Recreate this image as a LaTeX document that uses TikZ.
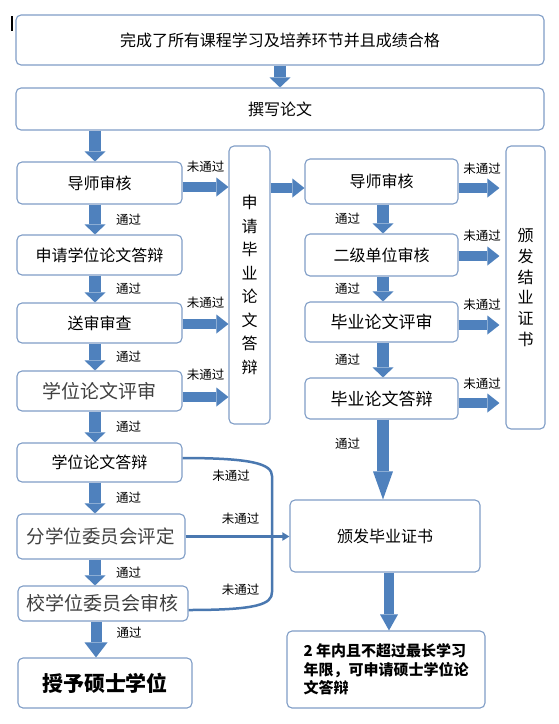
\documentclass[tikz,border=0pt]{standalone}
\usepackage{fontspec}
\setmainfont{Noto Sans CJK SC}
\usepackage{tikz}
\usetikzlibrary{arrows.meta,calc,positioning}
\definecolor{flowblue}{HTML}{4F81BD}
\definecolor{boxline}{HTML}{7F9DC6}
\definecolor{railblue}{HTML}{4A78B0}
\newcommand{\fs}[1]{\fontsize{#1}{#1}\selectfont}

\begin{document}
\begin{tikzpicture}[>={Triangle[width=21pt,length=10pt,line width=0pt]}, node distance=2cm, on grid]

	\tikzset{
		box/.style = {rectangle, draw=boxline, line width=1.1pt, rounded corners=5pt,
			inner sep=0pt, font=\fs{16}},
		flow/.style = {->, color=flowblue, line width=12pt},
		side/.style = {color=flowblue, line width=10pt, -{Triangle[width=19pt,length=12pt,line width=0pt]}},
		lab/.style = {inner sep=1pt, text=black, font=\fs{12.5}},
		rail/.style = {draw=railblue, line width=2.5pt}
	}

	\useasboundingbox (0,0) rectangle (559pt,-724pt);
	\fill (11pt,-16pt) rectangle (13pt,-31pt);

	\node[box, minimum width=528pt, minimum height=50pt] (top) at (280pt,-40pt) {完成了所有课程学习及培养环节并且成绩合格};
	\node[box, minimum width=528pt, minimum height=42pt] (write) [below = 69pt of top] {撰写论文};

	% left column
	\node[box, minimum width=165pt, minimum height=42pt] (L1) [below = 74pt of write, xshift = -180.5pt] {导师审核};
	\node[box, minimum width=165pt, minimum height=40pt] (L2) [below = 72pt of L1] {申请学位论文答辩};
	\node[box, minimum width=165pt, minimum height=40pt] (L3) [below = 68pt of L2] {送审审查};
	\node[box, minimum width=165pt, minimum height=40pt, font=\fs{19}, text=black!75] (L4) [below = 68pt of L3] {学位论文评审};
	\node[box, minimum width=165pt, minimum height=39pt] (L5) [below = 71.5pt of L4] {学位论文答辩};
	\node[box, minimum width=168pt, minimum height=45pt, font=\fs{18.5}, text=black!75] (L6) [below = 74pt of L5, xshift = 1.5pt] {分学位委员会评定};
	\node[box, minimum width=170pt, minimum height=35pt, font=\fs{19}, text=black!75] (L7) [below = 67pt of L6, xshift = 2pt] {校学位委员会审核};
	\node[box, minimum width=174pt, minimum height=50pt, font=\fs{21}\bfseries] (L8) [below = 79.5pt of L7, xshift = 2pt] {授予硕士学位};

	% middle and right column
	\node[box, minimum width=41pt, minimum height=278pt, align=center, font=\fontsize{16}{23.5}\selectfont] (M) [right = 150pt of L1, yshift = -102pt] {申\\请\\毕\\业\\论\\文\\答\\辩};
	\node[box, minimum width=153pt, minimum height=45pt] (R1) [right = 282pt of L1, yshift = 1.5pt] {导师审核};
	\node[box, minimum width=153pt, minimum height=42pt] (R2) [below = 73.5pt of R1] {二级单位审核};
	\node[box, minimum width=153pt, minimum height=40pt, font=\fs{17}] (R3) [below = 67pt of R2] {毕业论文评审};
	\node[box, minimum width=153pt, minimum height=41pt, font=\fs{17}] (R4) [below = 76.5pt of R3] {毕业论文答辩};
	\node[box, minimum width=39pt, minimum height=283pt, align=center, font=\fontsize{16}{20.7}\selectfont] (J) [right = 144pt of R1, yshift = -106pt] {颁\\发\\结\\业\\证\\书};
	\node[box, minimum width=190pt, minimum height=72pt] (G) [below = 137.5pt of R4, xshift = 3.5pt] {颁发毕业证书};
	\node[box, minimum width=198pt, minimum height=77pt, align=left, font=\fontsize{15}{18.5}\selectfont\bfseries] (T) [below = 133.5pt of G, xshift = 1pt] {2 年内且不超过最长学习\\年限，可申请硕士学位论\\文答辩};

	\coordinate (a1) at ($(L1.east)+(0,-4pt)$);
	\coordinate (a3) at ($(L3.east)+(0,-1pt)$);
	\coordinate (a4) at ($(L4.east)+(0,-6pt)$);
	\coordinate (b0) at ($(R1.west)+(0,-6.5pt)$);
	\coordinate (b1) at ($(R1.east)+(0,-6.5pt)$);
	\coordinate (b2) at ($(R2.east)+(0,-1pt)$);
	\coordinate (b3) at ($(R3.east)+(0,-3pt)$);
	\coordinate (b4) at ($(R4.east)+(0,-4.5pt)$);

	\path[flow]
	(top) edge (write)
	([xshift = -185pt]write.south) edge ([xshift = -4.5pt]L1.north)
	([xshift = -4.5pt]L1.south) edge node[lab, anchor=west, xshift=14pt] {通过} ([xshift = -4.5pt]L2.north)
	([xshift = -4.5pt]L2.south) edge node[lab, anchor=west, xshift=14pt] {通过} ([xshift = -4.5pt]L3.north)
	([xshift = -4.5pt]L3.south) edge node[lab, anchor=west, xshift=14pt] {通过} ([xshift = -4.5pt]L4.north)
	([xshift = -4.5pt]L4.south) edge node[lab, anchor=west, xshift=14pt] {通过} ([xshift = -4.5pt]L5.north)
	([xshift = -4.5pt]L5.south) edge node[lab, anchor=west, xshift=14pt] {通过} ([xshift = -6pt]L6.north)
	([xshift = -6pt]L6.south) edge node[lab, anchor=west, xshift=14pt] {通过} ([xshift = -8pt]L7.north)

	([xshift = 1.5pt]R1.south) edge node[lab, anchor=east, xshift=-16pt] {通过} ([xshift = 1.5pt]R2.north)
	([xshift = 1.5pt]R2.south) edge node[lab, anchor=east, xshift=-16pt] {通过} ([xshift = 1.5pt]R3.north)
	([xshift = 1.5pt]R3.south) edge node[lab, anchor=east, xshift=-16pt] {通过} ([xshift = 1.5pt]R4.north)
	;

	\path[flow, line width=11pt, -{Triangle[width=23pt,length=15pt,line width=0pt]}]
	([xshift = -7pt]L7.south) edge node[lab, anchor=west, xshift=14pt, pos=0.3] {通过} ([xshift = -9pt]L8.north);
	\path[flow, -{Triangle[width=20pt,length=28pt,line width=0pt]}]
	([xshift = 1.5pt]R4.south) edge node[lab, anchor=east, xshift=-16pt, pos=0.3] {通过} ([xshift = -2pt]G.north);
	\path[flow, line width=10pt, -{Triangle[width=18pt,length=16pt,line width=0pt]}]
	([xshift = 4pt]G.south) edge ([xshift = 3pt]T.north);

	\path[side]
	(a1) edge node[lab, anchor=south, yshift=9pt] {未通过} (a1 -| M.west)
	(a3) edge node[lab, anchor=south, yshift=10pt] {未通过} (a3 -| M.west)
	(a4) edge node[lab, anchor=south, yshift=11pt] {未通过} (a4 -| M.west)
	(b0 -| M.east) edge (b0)
	;
	\path[side, shorten >=6pt]
	(b1) edge node[lab, anchor=south, yshift=8pt] {未通过} (b1 -| J.west)
	(b2) edge node[lab, anchor=south, yshift=9pt] {未通过} (b2 -| J.west)
	(b3) edge node[lab, anchor=south, yshift=9pt] {未通过} (b3 -| J.west)
	(b4) edge node[lab, anchor=south, yshift=8pt] {未通过} (b4 -| J.west)
	;

	% failed defence / committee loop
	\coordinate (c5) at ($(L5.east)+(0,4.5pt)$);
	\coordinate (c7) at ($(L7.east)+(0,-6.5pt)$);
	\coordinate (rtop) at (272pt,-476pt);
	\coordinate (rbot) at (272pt,-592pt);
	\draw[rail] (c5) .. controls +(70pt,0pt) and +(0pt,12pt) .. (rtop) -- (rbot) .. controls +(0pt,-12pt) and +(70pt,0pt) .. (c7);
	\draw[rail, -{Triangle[width=8pt,length=7pt]}] (L6.east) -- (L6.east -| G.west);
	\node[lab] (f5) [below right = 11pt and 28.5pt of c5] {未通过};
	\node[lab] (f6) [above right = 10.5pt and 35pt of L6.east] {未通过};
	\node[lab] (f7) [above right = 13pt and 32pt of c7] {未通过};

\end{tikzpicture}
\end{document}
